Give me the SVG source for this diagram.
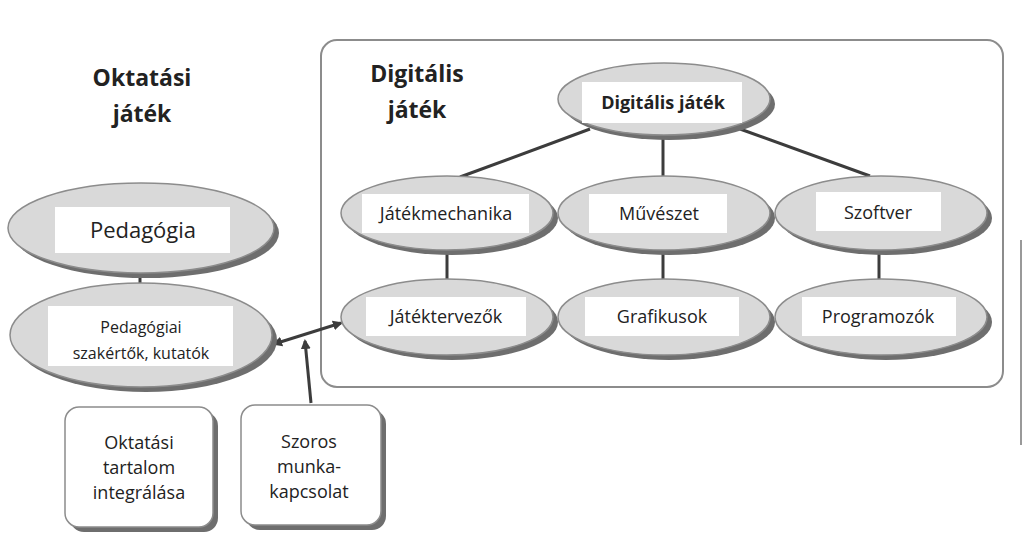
<svg xmlns="http://www.w3.org/2000/svg" width="1023" height="549" viewBox="0 0 1023 549">
<style>
.e{fill:#d9d9d9;stroke:#8c8c8c;stroke-width:1.5}
.s{fill:#6e6e6e}
.l{fill:#fff}
.t{font-family:"Open Sans","Liberation Sans",sans-serif;font-size:18px;fill:#222;text-anchor:middle}
.h{font-family:"Open Sans","Liberation Sans",sans-serif;font-weight:bold;font-size:23px;fill:#222;text-anchor:middle}
.c{stroke:#3c3c3c;stroke-width:3;fill:none}
.b{fill:#fff;stroke:#8c8c8c;stroke-width:1.5}
</style>
<defs>
<marker id="a" markerWidth="10" markerHeight="10" refX="8" refY="5" orient="auto-start-reverse" markerUnits="userSpaceOnUse"><path d="M0,0L10,5L0,10z" fill="#3c3c3c"/></marker>
</defs>
<rect width="1023" height="549" fill="#fff"/>
<line x1="1021" y1="240" x2="1021" y2="445" stroke="#999" stroke-width="2"/>
<rect x="321" y="40" width="682" height="347" rx="16" fill="#fff" stroke="#8c8c8c" stroke-width="2"/>
<text class="h" x="142" y="86">Oktatási</text><text class="h" x="142" y="122">játék</text>
<text class="h" x="417" y="82">Digitális</text><text class="h" x="417" y="118">játék</text>
<g id="connectors">
<line class="c" x1="590" y1="129" x2="460" y2="177"/>
<line class="c" x1="663" y1="136" x2="663" y2="177"/>
<line class="c" x1="740" y1="129" x2="870" y2="176"/>
<line class="c" x1="447" y1="250" x2="447" y2="280"/>
<line class="c" x1="663" y1="250" x2="663" y2="280"/>
<line class="c" x1="879" y1="250" x2="879" y2="280"/>
<line class="c" x1="140" y1="273" x2="140" y2="284"/>
<line class="c" x1="274" y1="344" x2="341" y2="323" marker-start="url(#a)" marker-end="url(#a)"/>
<line class="c" x1="311" y1="403" x2="305" y2="341" marker-end="url(#a)"/>
</g>
<g id="n-dig"><ellipse class="s" cx="669" cy="104" rx="106" ry="36"/><ellipse class="e" cx="664" cy="99" rx="106" ry="36"/><rect class="l" x="582" y="82" width="160" height="41"/><text class="h" x="663" y="109" style="font-size:18px">Digitális játék</text></g>
<g id="n-mech"><ellipse class="s" cx="452" cy="218" rx="106" ry="37"/><ellipse class="e" cx="447" cy="213" rx="106" ry="37"/><rect class="l" x="362" y="194" width="167" height="39"/><text class="t" x="446" y="220">Játékmechanika</text></g>
<g id="n-muv"><ellipse class="s" cx="669" cy="218" rx="106" ry="37"/><ellipse class="e" cx="664" cy="213" rx="106" ry="37"/><rect class="l" x="589" y="194" width="138" height="39"/><text class="t" x="659" y="220">Művészet</text></g>
<g id="n-szo"><ellipse class="s" cx="886" cy="218" rx="106" ry="37"/><ellipse class="e" cx="881" cy="213" rx="106" ry="37"/><rect class="l" x="816" y="192" width="125" height="39"/><text class="t" x="878" y="219">Szoftver</text></g>
<g id="n-jt"><ellipse class="s" cx="452" cy="322" rx="106" ry="38"/><ellipse class="e" cx="447" cy="317" rx="106" ry="38"/><rect class="l" x="366" y="297" width="160" height="39"/><text class="t" x="446" y="323">Játéktervezők</text></g>
<g id="n-graf"><ellipse class="s" cx="669" cy="322" rx="106" ry="38"/><ellipse class="e" cx="664" cy="317" rx="106" ry="38"/><rect class="l" x="585" y="297" width="154" height="39"/><text class="t" x="662" y="323">Grafikusok</text></g>
<g id="n-prog"><ellipse class="s" cx="886" cy="322" rx="106" ry="38"/><ellipse class="e" cx="881" cy="317" rx="106" ry="38"/><rect class="l" x="802" y="297" width="154" height="39"/><text class="t" x="878" y="323">Programozók</text></g>
<g id="n-ped"><ellipse class="s" cx="146" cy="233" rx="133" ry="45"/><ellipse class="e" cx="141" cy="228" rx="133" ry="45"/><rect class="l" x="55" y="207" width="175" height="46"/><text class="t" x="143" y="238" style="font-size:22px">Pedagógia</text></g>
<g id="n-pszk"><ellipse class="s" cx="146" cy="340" rx="131" ry="52"/><ellipse class="e" cx="141" cy="335" rx="131" ry="52"/><rect class="l" x="48" y="306" width="185" height="60"/><text class="t" x="141" y="333" style="font-size:16px">Pedagógiai</text><text class="t" x="141" y="359" style="font-size:16px">szakértők, kutatók</text></g>
<g id="n-okt"><rect x="70" y="412" width="148" height="120" rx="14" fill="#6e6e6e"/><rect class="b" x="65" y="407" width="148" height="120" rx="14"/><text class="t" x="139" y="449">Oktatási</text><text class="t" x="139" y="474">tartalom</text><text class="t" x="139" y="499">integrálása</text></g>
<g id="n-szor"><rect x="246" y="410" width="140" height="120" rx="14" fill="#6e6e6e"/><rect class="b" x="241" y="405" width="140" height="120" rx="14"/><text class="t" x="309" y="448">Szoros</text><text class="t" x="309" y="473">munka-</text><text class="t" x="309" y="498">kapcsolat</text></g>
</svg>
